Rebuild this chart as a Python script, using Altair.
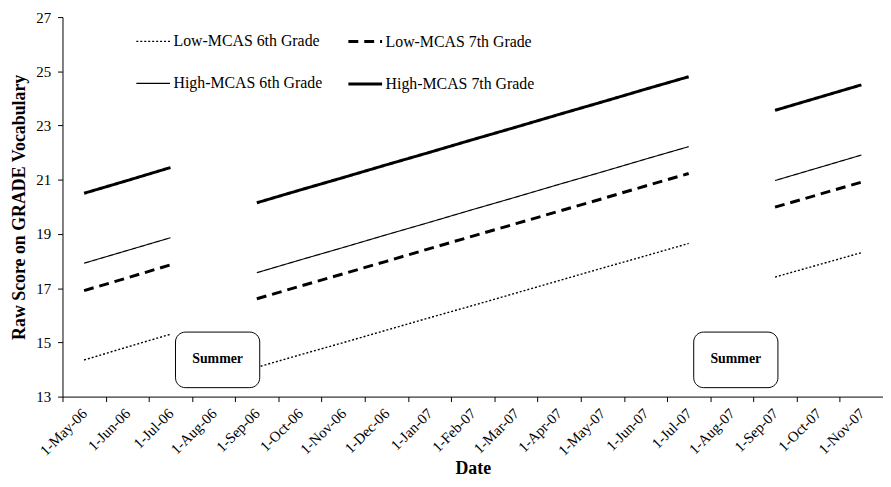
import altair as alt
import pandas as pd

months = ["1-May-06", "1-Jun-06", "1-Jul-06", "1-Aug-06", "1-Sep-06", "1-Oct-06",
          "1-Nov-06", "1-Dec-06", "1-Jan-07", "1-Feb-07", "1-Mar-07", "1-Apr-07",
          "1-May-07", "1-Jun-07", "1-Jul-07", "1-Aug-07", "1-Sep-07", "1-Oct-07",
          "1-Nov-07"]

# order chosen so the 2-column legend reads row-wise like the reference
series_names = ["Low-MCAS 6th Grade", "High-MCAS 6th Grade",
                "Low-MCAS 7th Grade", "High-MCAS 7th Grade"]

low6 = [14.35, 14.83, 15.30, None, 14.08, 14.54, 14.99, 15.45, 15.91, 16.36, 16.82,
        17.28, 17.74, 18.19, 18.65, None, 17.41, 17.86, 18.31]
high6 = [17.92, 18.39, 18.86, None, 17.57, 18.04, 18.50, 18.97, 19.43, 19.90, 20.36,
         20.83, 21.29, 21.76, 22.22, None, 20.97, 21.44, 21.91]
low7 = [16.91, 17.38, 17.86, None, 16.61, 17.07, 17.53, 17.99, 18.46, 18.92, 19.38,
        19.84, 20.30, 20.77, 21.23, None, 19.99, 20.45, 20.91]
high7 = [20.50, 20.97, 21.45, None, 20.15, 20.62, 21.08, 21.55, 22.01, 22.48, 22.94,
         23.41, 23.87, 24.34, 24.80, None, 23.56, 24.03, 24.50]

summer_months = ["1-Aug-06", "1-Aug-07"]
summer_top = [15.38, 15.38]
summer_bottom = [13.33, 13.33]
summer_label_y = [14.38, 14.38]

dash_range = [[2, 2], [1, 0], [10, 6], [1, 0]]
width_range = [1.4, 1.2, 3.0, 3.0]

FONT = "Liberation Serif"

rows = []
for name, vals in zip(series_names, [low6, high6, low7, high7]):
    seg = 0
    for m, v in zip(months, vals):
        if v is None:
            seg += 1
            continue
        rows.append({"Month": m, "Series": name, "Segment": f"{name}-{seg}", "Score": v})
df = pd.DataFrame(rows)

summer_df = pd.DataFrame({"Month": summer_months, "top": summer_top,
                          "bottom": summer_bottom, "ly": summer_label_y,
                          "label": ["Summer", "Summer"]})

x_enc = alt.X("Month:O", sort=months,
              scale=alt.Scale(domain=months, paddingInner=0, paddingOuter=0),
              axis=alt.Axis(title="Date", tickBand="extent", labelAngle=-45,
                            labelAlign="right", labelBaseline="middle",
                            labelFont=FONT, labelFontSize=15, labelColor="black",
                            labelPadding=9, tickSize=5, tickColor="black",
                            domainColor="black", titleFont=FONT, titleFontSize=18,
                            titleFontWeight="bold", titleColor="black", titlePadding=2))

y_scale = alt.Scale(domain=[13, 27], nice=False, zero=False)
y_axis = alt.Axis(title="Raw Score on GRADE Vocabulary", values=[13, 15, 17, 19, 21, 23, 25, 27],
                  tickSize=5, tickColor="black", domainColor="black",
                  labelFont=FONT, labelFontSize=15, labelColor="black", labelPadding=7,
                  titleFont=FONT, titleFontSize=18, titleFontWeight="bold",
                  titleColor="black", titlePadding=7)

legend = alt.Legend(title=None, orient="none", legendX=73, legendY=6, columns=2,
                    symbolType="stroke", symbolSize=1156, symbolStrokeColor="black",
                    labelFont=FONT, labelFontSize=16, labelColor="black",
                    labelOffset=2, columnPadding=19, rowPadding=16, padding=0)

lines = alt.Chart(df).mark_line(color="black", strokeCap="butt").encode(
    x=x_enc,
    y=alt.Y("Score:Q", scale=y_scale, axis=y_axis),
    detail="Segment:N",
    strokeDash=alt.StrokeDash("Series:N", sort=series_names,
                              scale=alt.Scale(domain=series_names, range=dash_range),
                              legend=legend),
    strokeWidth=alt.StrokeWidth("Series:N", sort=series_names,
                                scale=alt.Scale(type="ordinal", domain=series_names,
                                                range=width_range),
                                legend=legend),
)

boxes = alt.Chart(summer_df).mark_bar(width=85, fill="white", stroke="black",
                                      strokeWidth=1, cornerRadius=10, xOffset=4).encode(
    x=alt.X("Month:O", sort=months),
    y=alt.Y("top:Q", scale=y_scale),
    y2="bottom:Q",
)

labels = alt.Chart(summer_df).mark_text(font=FONT, fontSize=14, fontWeight="bold",
                                        color="black", dx=4).encode(
    x=alt.X("Month:O", sort=months),
    y=alt.Y("ly:Q", scale=y_scale),
    text="label:N",
)

chart = alt.layer(lines, boxes, labels).properties(
    width=828, height=383,
    autosize=alt.AutoSizeParams(type="none"),
    padding={"left": 55, "top": 7, "right": 0, "bottom": 81},
).configure_view(stroke=None).configure_axis(grid=False)

chart.save("out.html", embed_options={"renderer": "svg", "actions": False})
